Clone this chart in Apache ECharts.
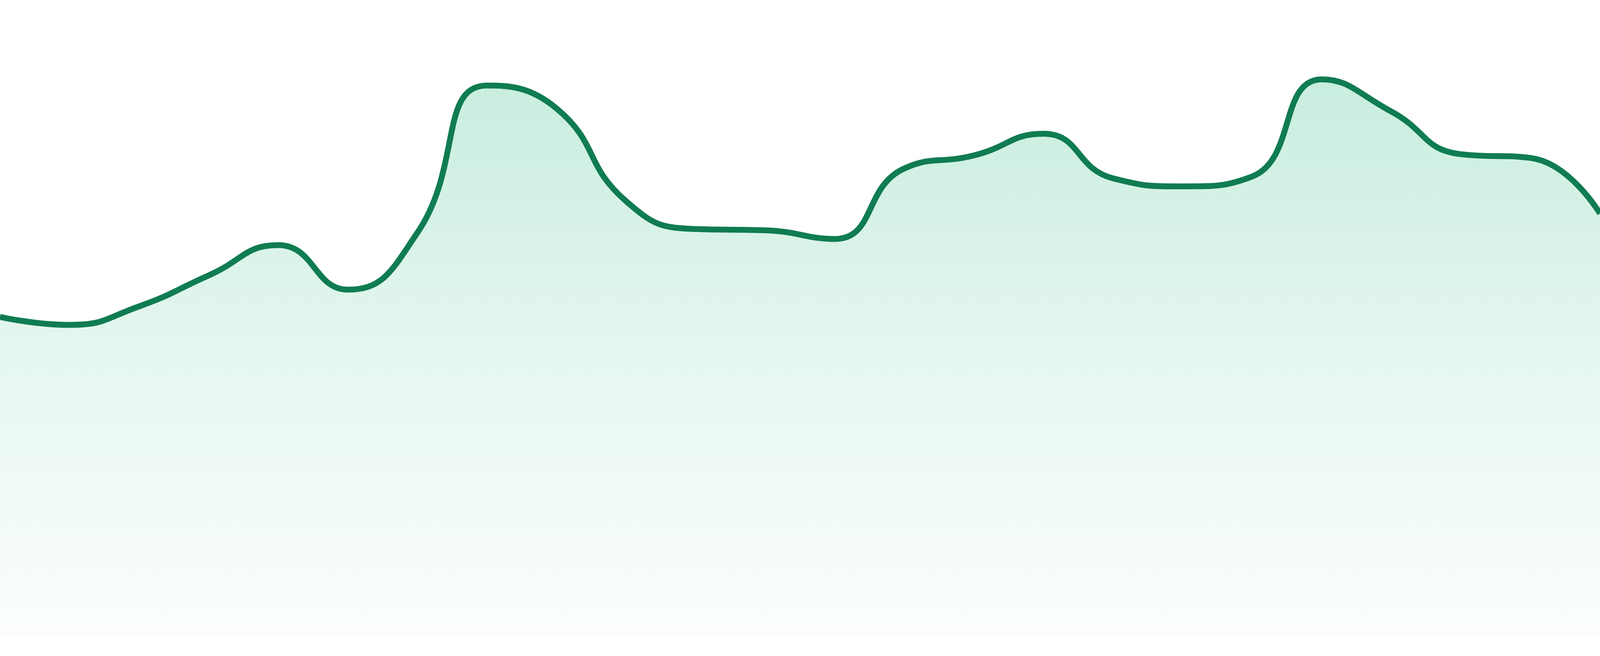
<!DOCTYPE html>
<html>
<head>
<meta charset="utf-8">
<script src="https://cdn.jsdelivr.net/npm/echarts@6/dist/echarts.min.js"></script>
<style>
html,body{margin:0;padding:0;width:100%;height:100%;overflow:hidden;background:#ffffff;}
#chart{width:100vw;height:100vh;}
</style>
</head>
<body>
<div id="chart"></div>
<script>
const categories = ['0','1','2','3','4','5','6','7','8','9','10','11','12','13','14','15','16','17','18','19','20','21','22','23'];
const values = [51.8, 50.5, 53.5, 58.5, 63.4, 56.2, 65.4, 89.2, 85.5, 70.5, 66.0, 65.8, 64.4, 75.8, 77.9, 81.4, 74.2, 72.9, 74.5, 90.2, 85.0, 78.1, 77.5, 68.5];

const dpr = window.devicePixelRatio || 1;
const chart = echarts.init(document.getElementById('chart'), null, {renderer: 'canvas'});
chart.setOption({
  animation: false,
  grid: {left: 0, right: 0, top: '2.857%', bottom: '2.857%'},
  xAxis: {type: 'category', data: categories, boundaryGap: false, show: false},
  yAxis: {type: 'value', min: 0, max: 100, show: false},
  series: [{
    type: 'line',
    data: values,
    smooth: true,
    symbol: 'none',
    lineStyle: {color: '#107c52', width: 15 / dpr},
    areaStyle: {
      color: new echarts.graphic.LinearGradient(0, 0, 0, 1, [
        {offset: 0, color: 'rgb(176,229,208)'},
        {offset: 0.5, color: 'rgb(218,242,233)'},
        {offset: 1, color: 'rgb(250,253,252)'}
      ])
    }
  }]
});
window.addEventListener('resize', function(){ chart.resize(); });
</script>
</body>
</html>
